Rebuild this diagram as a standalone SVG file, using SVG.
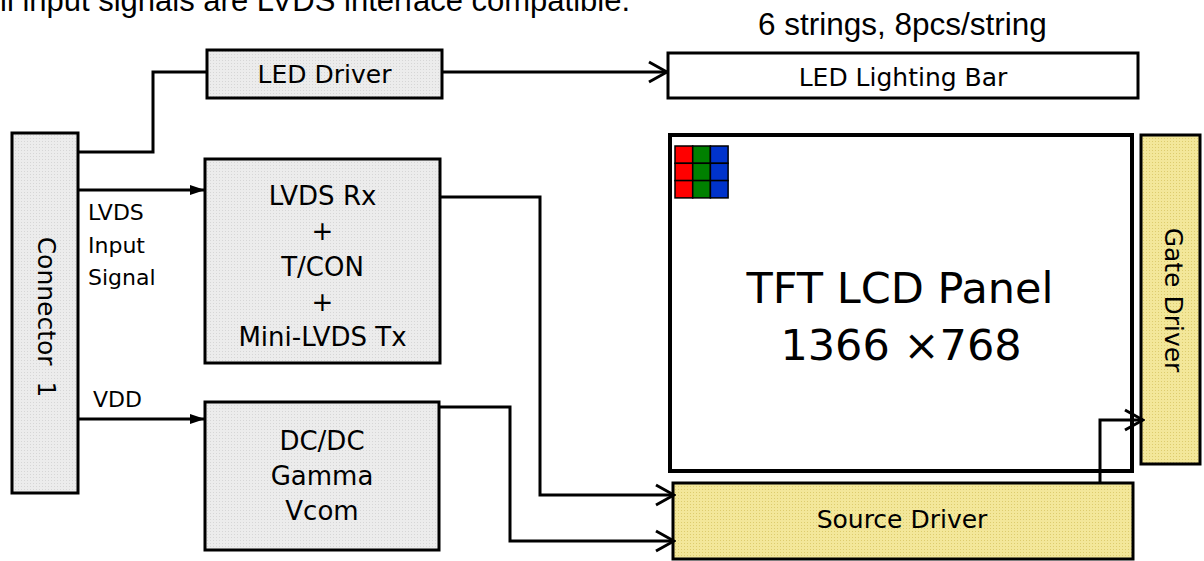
<svg xmlns="http://www.w3.org/2000/svg" width="1204" height="561" viewBox="0 0 1204 561">
<defs>
<pattern id="pg" width="3" height="3" patternUnits="userSpaceOnUse"><rect width="3" height="3" fill="#ececec"/><rect width="1" height="1" fill="#d6d6d6"/></pattern>
<pattern id="py" width="3" height="3" patternUnits="userSpaceOnUse"><rect width="3" height="3" fill="#f3e79a"/><rect width="1" height="1" fill="#ddcc6e"/></pattern>
<marker id="fa" markerWidth="15" markerHeight="10" refX="15" refY="5" orient="auto" markerUnits="userSpaceOnUse"><path d="M0,0 L15,5 L0,10 Z" fill="#000"/></marker>
<marker id="oa" markerWidth="22" markerHeight="24" refX="20" refY="12" orient="auto" markerUnits="userSpaceOnUse"><path d="M2,2 L20,12 L2,22" fill="none" stroke="#000" stroke-width="3"/></marker>
</defs>
<style>
.box{stroke:#000;stroke-width:3}
.g{fill:url(#pg)}
.y{fill:url(#py)}
.w{fill:#fff}
.t{font-family:"DejaVu Sans",Verdana,sans-serif;fill:#000;font-size:25px}
.s{font-size:22px}
.m{font-size:26px}
.l{font-size:43px}
.c{text-anchor:middle}
.a{font-family:"Liberation Sans",Arial,sans-serif;fill:#000;font-size:31px}
.ln{fill:none;stroke:#000;stroke-width:3}
</style>
<rect width="1204" height="561" fill="#fff"/>
<text class="a" x="0" y="11">ll input signals are LVDS interface compatible.</text>
<text class="a" x="758" y="35" style="font-size:31.5px">6 strings, 8pcs/string</text>

<g id="connector1">
<rect class="box g" x="12" y="133" width="66" height="360"/>
<text class="t c" transform="translate(38,317) rotate(90)" xml:space="preserve">Connector  1</text>
</g>
<text class="t s" x="88" y="220">LVDS</text>
<text class="t s" x="88" y="253">Input</text>
<text class="t s" x="88" y="285">Signal</text>
<text class="t s" x="93" y="407">VDD</text>

<g id="led-driver">
<rect class="box g" x="207" y="50" width="235" height="48"/>
<text class="t c" x="324.5" y="83">LED Driver</text>
</g>

<g id="led-bar">
<rect class="box w" x="668" y="53" width="470" height="45"/>
<text class="t c" x="903" y="86">LED Lighting Bar</text>
</g>

<g id="lvds-rx">
<rect class="box g" x="205" y="159" width="235" height="204"/>
<text class="t c m" x="322.5" y="205">LVDS Rx</text>
<text class="t c m" x="322.5" y="240">+</text>
<text class="t c m" x="322.5" y="276">T/CON</text>
<text class="t c m" x="322.5" y="311">+</text>
<text class="t c m" x="322.5" y="346">Mini-LVDS Tx</text>
</g>

<g id="dcdc">
<rect class="box g" x="205" y="402" width="234" height="148"/>
<text class="t c m" x="322" y="450">DC/DC</text>
<text class="t c m" x="322" y="485">Gamma</text>
<text class="t c m" x="322" y="520">Vcom</text>
</g>

<g id="tft-panel">
<rect class="w" x="670" y="135" width="462" height="336" stroke="#000" stroke-width="4"/>
<g stroke="#000" stroke-width="1.5">
<rect x="675" y="146" width="17.7" height="17.3" fill="#ff0000"/>
<rect x="692.7" y="146" width="17.7" height="17.3" fill="#008000"/>
<rect x="710.4" y="146" width="17.7" height="17.3" fill="#0033cc"/>
<rect x="675" y="163.3" width="17.7" height="17.3" fill="#ff0000"/>
<rect x="692.7" y="163.3" width="17.7" height="17.3" fill="#008000"/>
<rect x="710.4" y="163.3" width="17.7" height="17.3" fill="#0033cc"/>
<rect x="675" y="180.6" width="17.7" height="17.3" fill="#ff0000"/>
<rect x="692.7" y="180.6" width="17.7" height="17.3" fill="#008000"/>
<rect x="710.4" y="180.6" width="17.7" height="17.3" fill="#0033cc"/>
</g>
<text class="t c l" x="900" y="303">TFT LCD Panel</text>
<text class="t c l" x="901" y="360">1366 ×768</text>
</g>

<g id="gate-driver">
<rect class="box y" x="1141" y="135" width="59" height="329"/>
<text class="t c" transform="translate(1165,300) rotate(90)">Gate Driver</text>
</g>

<g id="source-driver">
<rect class="box y" x="673" y="483" width="460" height="76"/>
<text class="t c" x="902" y="528">Source Driver</text>
</g>

<g id="connectors">
<polyline class="ln" points="78,152 153,152 153,72 207,72"/>
<line class="ln" x1="442" y1="72" x2="667" y2="72" stroke-width="2" marker-end="url(#oa)"/>
<line class="ln" x1="78" y1="190" x2="205" y2="190" marker-end="url(#fa)"/>
<line class="ln" x1="78" y1="419" x2="205" y2="419" marker-end="url(#fa)"/>
<polyline class="ln" points="440,197 540,197 540,495 674,495" marker-end="url(#oa)"/>
<polyline class="ln" points="439,407 510,407 510,541 674,541" marker-end="url(#oa)"/>
<polyline class="ln" points="1100,483 1100,420 1143,420" marker-end="url(#oa)"/>
</g>
</svg>
